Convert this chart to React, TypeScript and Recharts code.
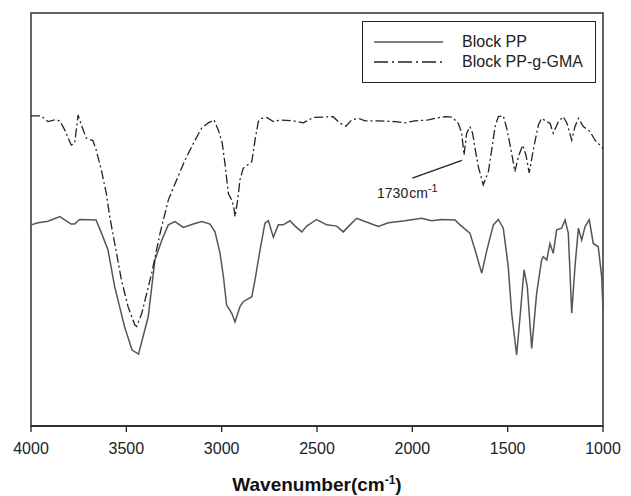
import {
  LineChart,
  Line,
  XAxis,
  YAxis,
  Legend,
  ReferenceArea,
  ReferenceLine,
  ReferenceDot,
} from "recharts"

// Block PP (solid)
const ppWavenumber = [
  4000, 3963, 3911, 3849, 3790, 3771, 3745, 3659, 3633, 3596, 3561, 3509, 3470, 3436, 3385,
  3350, 3314, 3280, 3245, 3201, 3149, 3105, 3061, 3035, 3009, 2991, 2974, 2947, 2930, 2904,
  2887, 2842, 2825, 2799, 2773, 2755, 2729, 2703, 2677, 2642, 2615, 2580, 2554, 2502, 2449,
  2397, 2362, 2327, 2292, 2248, 2178, 2126, 2038, 1951, 1898, 1846, 1776, 1750, 1698, 1671,
  1636, 1609, 1575, 1549, 1523, 1497, 1479, 1453, 1435, 1414, 1397, 1374, 1348, 1322, 1313,
  1295, 1278, 1261, 1243, 1217, 1199, 1182, 1164, 1147, 1129, 1112, 1094, 1072, 1051, 1025,
  1007, 1000,
]
const ppValue = [
  48.7, 49.2, 49.6, 50.7, 48.9, 48.9, 50.0, 49.9, 47.0, 42.6, 33.7, 24.0, 18.4, 17.4, 26.5,
  40.2, 45.0, 48.7, 49.5, 48.1, 48.9, 49.5, 48.9, 47.0, 41.9, 36.2, 29.3, 27.3, 25.2, 28.9,
  30.1, 31.3, 35.4, 42.6, 49.1, 49.7, 45.7, 48.7, 48.7, 49.7, 48.4, 47.0, 48.4, 50.0, 48.7,
  48.4, 47.0, 48.7, 50.3, 49.5, 48.3, 49.2, 49.7, 50.3, 49.7, 50.0, 49.9, 48.7, 46.7, 42.6,
  37.0, 42.6, 48.7, 50.0, 47.9, 38.6, 27.3, 17.2, 26.5, 37.8, 33.7, 18.8, 32.1, 40.2, 41.0,
  40.2, 44.2, 41.8, 47.5, 47.9, 49.9, 46.7, 27.3, 38.6, 47.9, 45.0, 48.3, 49.9, 44.2, 43.4,
  36.2, 28.1,
]

// Block PP-g-GMA (dash-dot)
const gmaWavenumber = [
  4000, 3946, 3911, 3876, 3849, 3823, 3789, 3771, 3753, 3736, 3710, 3675, 3658, 3631, 3605,
  3587, 3561, 3526, 3491, 3456, 3446, 3419, 3367, 3323, 3280, 3236, 3192, 3140, 3105, 3070,
  3040, 3018, 2997, 2983, 2965, 2947, 2937, 2930, 2916, 2904, 2887, 2842, 2825, 2808, 2790,
  2764, 2729, 2694, 2624, 2572, 2519, 2415, 2379, 2348, 2318, 2283, 2248, 2178, 2091, 2038,
  1986, 1916, 1881, 1829, 1792, 1759, 1741, 1729, 1715, 1698, 1684, 1671, 1654, 1628, 1601,
  1584, 1566, 1549, 1523, 1505, 1479, 1462, 1444, 1421, 1404, 1387, 1366, 1339, 1322, 1295,
  1278, 1261, 1234, 1208, 1189, 1164, 1147, 1129, 1103, 1068, 1042, 1016, 1000,
]
const gmaValue = [
  75.1, 75.1, 73.7, 74.1, 73.9, 71.7, 68.0, 68.5, 75.3, 72.9, 69.7, 69.1, 66.8, 62.0, 56.3,
  50.7, 44.2, 35.4, 28.9, 24.5, 24.1, 27.3, 37.0, 46.7, 54.7, 59.6, 64.4, 69.2, 72.1, 73.4,
  74.1, 71.7, 68.5, 63.6, 56.3, 54.7, 53.1, 50.7, 54.7, 59.6, 62.4, 64.0, 69.2, 73.7, 74.5,
  74.7, 73.7, 74.1, 73.9, 73.4, 74.7, 74.9, 73.3, 72.6, 74.1, 74.5, 73.9, 73.9, 73.7, 73.4,
  73.9, 74.1, 74.5, 74.9, 74.8, 73.3, 70.9, 65.6, 70.9, 72.5, 70.9, 67.2, 62.8, 58.4, 61.6,
  66.8, 72.5, 74.9, 75.1, 72.1, 66.0, 61.6, 65.2, 68.0, 65.6, 61.3, 66.8, 72.9, 74.5, 73.7,
  73.3, 70.9, 73.7, 74.9, 73.3, 69.2, 72.5, 74.5, 72.5, 71.3, 69.2, 68.0, 67.2,
]

const xTicks = [4000, 3500, 3000, 2500, 2000, 1500, 1000]
const seriesNames = ["Block PP", "Block PP-g-GMA"]

const ppData = ppWavenumber.map((wn, i) => ({ wn, v: ppValue[i] }))
const gmaData = gmaWavenumber.map((wn, i) => ({ wn, v: gmaValue[i] }))

const FONT = '"Liberation Sans", Arial, sans-serif'
const DASH_DOT = "9 3 2 3"

function AxisTitle(props: any) {
  const vb = props.viewBox || {}
  const cx = vb.x + vb.width / 2
  return (
    <text x={cx} y={vb.y + 65} textAnchor="middle" fontFamily={FONT} fontWeight="bold" fontSize={19} fill="#111">
      Wavenumber(cm
      <tspan dy={-7} fontSize={12}>-1</tspan>
      <tspan dy={7}>)</tspan>
    </text>
  )
}

function PeakLabel(props: any) {
  const vb = props.viewBox || {}
  return (
    <text x={vb.x} y={vb.y} fontFamily={FONT} fontSize={14} fill="#222">
      1730
      <tspan dx={1}>cm</tspan>
      <tspan dy={-6} fontSize={11}>-1</tspan>
    </text>
  )
}

function LegendBox() {
  const rows = [
    { name: seriesNames[0], dash: undefined, color: "#555" },
    { name: seriesNames[1], dash: "14 4 2 4", color: "#222" },
  ]
  return (
    <div
      style={{
        position: "relative",
        width: 234,
        height: 62,
        boxSizing: "border-box",
        border: "1px solid #222",
        background: "#fff",
        fontFamily: FONT,
        fontSize: 16,
        color: "#222",
      }}
    >
      {rows.map((r, i) => (
        <div key={r.name} style={{ position: "absolute", left: 0, top: 10 + i * 20, height: 20, width: "100%" }}>
          <svg width={90} height={20} style={{ position: "absolute", left: 0, top: 0 }}>
            <line x1={11} x2={80} y1={10} y2={10} stroke={r.color} strokeWidth={1.3} strokeDasharray={r.dash} />
          </svg>
          <span style={{ position: "absolute", left: 99, top: 1, lineHeight: "18px", whiteSpace: "nowrap" }}>{r.name}</span>
        </div>
      ))}
    </div>
  )
}

export default function App() {
  return (
    <div style={{ position: "absolute", left: 0, top: 0, width: 631, height: 496, background: "#fff" }}>
      <LineChart width={631} height={496} margin={{ top: 13, right: 28, left: 31, bottom: 0 }}>
        <XAxis
          type="number"
          dataKey="wn"
          domain={[1000, 4000]}
          reversed
          ticks={xTicks}
          interval={0}
          tickSize={6}
          tickMargin={11}
          height={70}
          stroke="#222"
          tickLine={{ stroke: "#222", strokeWidth: 1.3 }}
          axisLine={{ stroke: "#222", strokeWidth: 1.5 }}
          tick={{ fill: "#222", fontSize: 16, fontFamily: FONT }}
          label={<AxisTitle />}
        />
        <YAxis type="number" domain={[0, 100]} hide />
        <ReferenceArea x1={4000} x2={1000} y1={0} y2={100} fill="none" stroke="#333" strokeWidth={1.5} />
        <Legend
          layout="vertical"
          align="center"
          verticalAlign="middle"
          content={<LegendBox />}
          wrapperStyle={{ position: "absolute", left: 362, top: 21, width: 234, height: 62 }}
        />
        <Line
          name={seriesNames[0]}
          data={ppData}
          dataKey="v"
          type="linear"
          stroke="#555"
          strokeWidth={1.5}
          dot={false}
          activeDot={false}
          isAnimationActive={false}
        />
        <Line
          name={seriesNames[1]}
          data={gmaData}
          dataKey="v"
          type="linear"
          stroke="#222"
          strokeWidth={1.3}
          strokeDasharray={DASH_DOT}
          dot={false}
          activeDot={false}
          isAnimationActive={false}
        />
        <ReferenceLine
          segment={[
            { x: 2000, y: 60 },
            { x: 1740, y: 64.3 },
          ]}
          stroke="#222"
          strokeWidth={1.3}
        />
        <ReferenceDot x={2185} y={55.2} r={0} fill="none" stroke="none" label={<PeakLabel />} />
      </LineChart>
    </div>
  )
}
